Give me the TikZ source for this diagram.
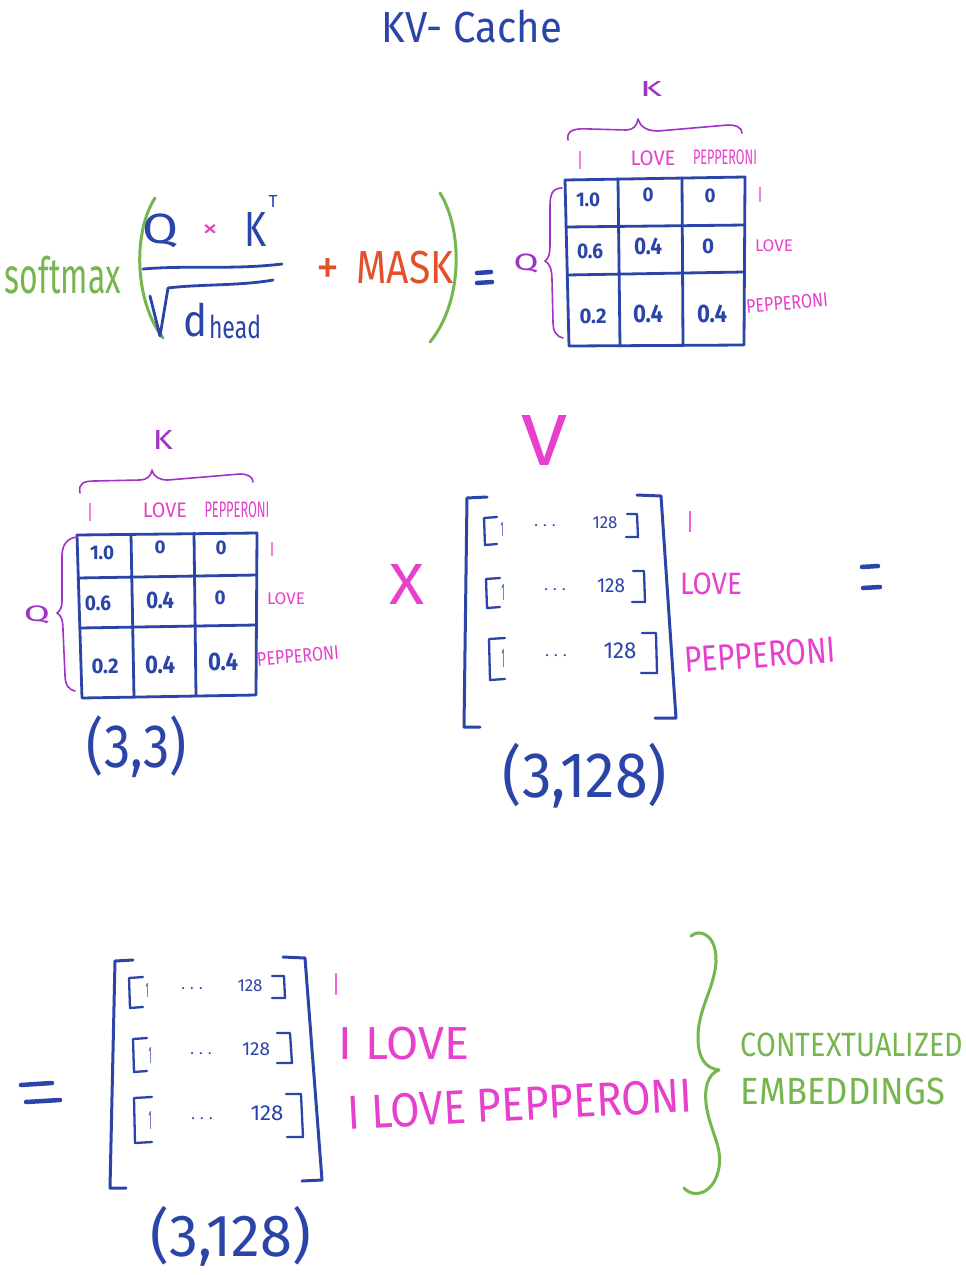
\documentclass[tikz,border=0pt]{standalone}
\usepackage{fontspec}
\setmainfont{Fira Sans}
\usepackage{graphicx}
\definecolor{inkblue}{RGB}{42,68,168}
\definecolor{inkpink}{RGB}{230,64,205}
\definecolor{inkpurple}{RGB}{160,50,200}
\definecolor{inkgreen}{RGB}{118,182,78}
\definecolor{inkred}{RGB}{226,80,44}
\newcommand{\fb}[3]{\resizebox*{#1pt}{#2pt}{#3}}
\begin{document}
\begin{tikzpicture}[x=1pt,y=-1pt,
  lbl/.style={inner sep=0pt,outer sep=0pt},
  blue/.style={lbl,text=inkblue},
  pink/.style={lbl,text=inkpink},
  purp/.style={lbl,text=inkpurple},
  gridline/.style={draw=inkblue,line width=2.8pt,line cap=round,line join=round},
  bigbr/.style={draw=inkblue,line width=3pt,line cap=round,line join=round},
  smallbr/.style={draw=inkblue,line width=2.3pt,line cap=round,line join=round},
  pbrace/.style={draw=inkpurple,line width=1.6pt,line cap=round,line join=round},
  gline/.style={draw=inkgreen,line width=3pt,line cap=round,line join=round},
  eqbar/.style={draw=inkblue,line width=4.5pt,line cap=round},
  dots/.style={lbl,text=inkblue,font=\fontsize{15}{15}\selectfont}
]
\useasboundingbox (0,0) rectangle (966,1275);
\fill[white] (0,0) rectangle (966,1275);

% ---------- title ----------
\node[blue] (title) at (472,27) {\fb{180}{33}{KV- Cache}};

% ---------- formula ----------
\node[lbl,text=inkgreen] (softmax) at (63,275) {\fb{116}{38}{softmax}};
\draw[gline] (155,198) .. controls (133,232) and (134,300) .. (163,338);
\draw[gline] (440,193) .. controls (463,230) and (463,302) .. (430,342);
\node[blue] (fq) at (161,231) {\fb{36}{34}{Q}};
\node[pink] (ftimes) at (210,231) {\fb{16}{13}{×}};
\node[blue] (fk) at (255,229) {\fb{22}{34}{K}};
\node[blue] (ft) at (273,201) {\fb{9}{12}{T}};
\draw[gridline] (143,269) .. controls (190,265) and (232,270) .. (282,264);
\draw[gridline] (150,296) -- (160,336) -- (168,288) .. controls (200,284) and (240,286) .. (273,280);
\node[blue] (fd) at (196,320) {\fb{24}{34}{d}};
\node[blue] (fhead) at (235,327) {\fb{52}{24}{head}};
\node[lbl,text=inkred] (fplus) at (328,271) {\fb{23}{26}{+}};
\node[lbl,text=inkred] (fmask) at (405,268) {\fb{97}{33}{MASK}};
\draw[eqbar] (477,273) -- (491,272);
\draw[eqbar] (477,283) -- (492,282);
\node[purp] (q1) at (526,263) {\fb{25}{19}{Q}};

% ---------- matrix 1 ----------
\draw[gridline] (565,180) -- (745,177) -- (744,345) -- (569,346) -- cycle;
\draw[gridline] (618,179) -- (620,346);
\draw[gridline] (682,178) -- (683,345);
\draw[gridline] (566,227) -- (745,225);
\draw[gridline] (567,275) -- (744,272);
\node[blue] (m1a) at (588,200) {\fb{24}{14}{\bfseries 1.0}};
\node[blue] (m1b) at (648,195) {\fb{11}{14}{\bfseries 0}};
\node[blue] (m1c) at (710,196) {\fb{11}{14}{\bfseries 0}};
\node[blue] (m1d) at (590,251) {\fb{26}{15}{\bfseries 0.6}};
\node[blue] (m1e) at (648,246) {\fb{28}{17}{\bfseries 0.4}};
\node[blue] (m1f) at (708,246) {\fb{12}{15}{\bfseries 0}};
\node[blue] (m1g) at (593,316) {\fb{27}{15}{\bfseries 0.2}};
\node[blue] (m1h) at (648,314) {\fb{30}{18}{\bfseries 0.4}};
\node[blue] (m1i) at (712,314) {\fb{30}{18}{\bfseries 0.4}};
\node[pink] (c1a) at (580,160) {\fb{4}{18}{I}};
\node[pink] (c1b) at (653,158) {\fb{45}{15}{LOVE}};
\node[pink] (c1c) at (725,157) {\fb{64}{15}{PEPPERONI}};
\node[pink] (r1a) at (760,195) {\fb{4}{15}{I}};
\node[pink] (r1b) at (774,246) {\fb{38}{12}{LOVE}};
\node[pink,rotate=5] (r1c) at (787,303) {\fb{82}{14}{PEPPERONI}};
\draw[pbrace] (568,140) .. controls (566,130) and (575,128) .. (590,129) -- (626,130) .. controls (633,130) and (637,126) .. (638,119) .. controls (640,126) and (646,131) .. (658,131) -- (728,125) .. controls (737,125) and (742,128) .. (742,133);
\node[purp] (k1) at (651,89) {\fb{22}{15}{K}};
\draw[pbrace] (562,188) .. controls (552,188) and (550,195) .. (550,206) -- (550,245) .. controls (550,255) and (548,259) .. (545,261) .. controls (549,263) and (552,268) .. (552,280) -- (553,322) .. controls (553,332) and (557,337) .. (563,338);

% ---------- matrix 2 ----------
\draw[gridline] (77,535) -- (257,533) -- (256,695) -- (82,698) -- cycle;
\draw[gridline] (131,534) -- (134,697);
\draw[gridline] (194,533) -- (196,696);
\draw[gridline] (78,578) -- (257,575);
\draw[gridline] (80,628) -- (256,625);
\node[blue] (m2a) at (102,553) {\fb{24}{14}{\bfseries 1.0}};
\node[blue] (m2b) at (160,547) {\fb{11}{13}{\bfseries 0}};
\node[blue] (m2c) at (221,548) {\fb{11}{14}{\bfseries 0}};
\node[blue] (m2d) at (98,603) {\fb{26}{15}{\bfseries 0.6}};
\node[blue] (m2e) at (160,600) {\fb{28}{17}{\bfseries 0.4}};
\node[blue] (m2f) at (220,598) {\fb{11}{14}{\bfseries 0}};
\node[blue] (m2g) at (105,666) {\fb{27}{15}{\bfseries 0.2}};
\node[blue] (m2h) at (160,665) {\fb{30}{18}{\bfseries 0.4}};
\node[blue] (m2i) at (223,662) {\fb{30}{18}{\bfseries 0.4}};
\node[pink] (c2a) at (90,512) {\fb{4}{18}{I}};
\node[pink] (c2b) at (165,510) {\fb{44}{15}{LOVE}};
\node[pink] (c2c) at (237,510) {\fb{65}{16}{PEPPERONI}};
\node[pink] (r2a) at (272,549) {\fb{4}{14}{I}};
\node[pink] (r2b) at (286,599) {\fb{38}{12}{LOVE}};
\node[pink,rotate=5] (r2c) at (298,656) {\fb{82}{14}{PEPPERONI}};
\draw[pbrace] (80,493) .. controls (78,483) and (84,481) .. (95,481) -- (140,480) .. controls (147,480) and (151,476) .. (152,470) .. controls (154,477) and (159,480) .. (168,480) -- (240,474) .. controls (248,474) and (253,477) .. (253,482);
\node[purp] (k2) at (163,440) {\fb{20}{19}{K}};
\draw[pbrace] (77,537) .. controls (67,538) and (62,545) .. (62,556) -- (62,600) .. controls (62,608) and (60,611) .. (57,613) .. controls (61,615) and (63,620) .. (63,630) -- (65,675) .. controls (65,685) and (69,690) .. (75,691);
\node[purp] (q2) at (37,615) {\fb{26}{18}{Q}};
\node[blue] (s33) at (137,747) {\fb{100}{62}{(3,3)}};

% ---------- times ----------
\node[pink] (times) at (407,584) {\fb{35}{40}{X}};

% ---------- V matrix ----------
\node[pink] (vlab) at (545,440) {\fb{46}{50}{V}};
\draw[bigbr] (487,497) -- (467,498) -- (464,727) -- (480,727);
\draw[bigbr] (637,495) -- (661,496) -- (676,718) -- (655,718);
\draw[smallbr] (497,517) -- (484,518) -- (485,545) -- (497,544);
\draw[smallbr] (627,514) -- (637,514) -- (638,537) -- (626,537);
\node[blue] (v1a) at (502,529) {\fb{3}{14}{1}};
\node[dots] (v1b) at (545,526) {. . .};
\node[blue] (v1c) at (605,523) {\fb{25}{12}{128}};
\draw[smallbr] (500,578) -- (486,579) -- (487,608) -- (500,607);
\draw[smallbr] (633,571) -- (644,571) -- (645,602) -- (632,602);
\node[blue] (v2a) at (503,592) {\fb{3}{16}{1}};
\node[dots] (v2b) at (555,590) {. . .};
\node[blue] (v2c) at (611,586) {\fb{28}{14}{128}};
\draw[smallbr] (505,638) -- (489,639) -- (490,680) -- (505,679);
\draw[smallbr] (642,633) -- (656,633) -- (657,673) -- (641,673);
\node[blue] (v3a) at (503,658) {\fb{3}{18}{1}};
\node[dots] (v3b) at (556,656) {. . .};
\node[blue] (v3c) at (620,651) {\fb{33}{16}{128}};
\node[pink] (vr1) at (690,522) {\fb{5}{21}{I}};
\node[pink] (vr2) at (711,584) {\fb{62}{22}{LOVE}};
\node[pink,rotate=4] (vr3) at (760,655) {\fb{152}{26}{PEPPERONI}};
\node[blue] (s3128a) at (585,776) {\fb{164}{65}{(3,128)}};
\draw[eqbar] (862,567) -- (878,566);
\draw[eqbar] (863,588) -- (880,587);

% ---------- result ----------
\draw[eqbar] (21,1085) -- (52,1083);
\draw[eqbar] (26,1102) -- (60,1100);
\draw[bigbr] (133,960) -- (115,961) -- (110,1188) -- (126,1188);
\draw[bigbr] (283,957) -- (305,958) -- (322,1180) -- (302,1181);
\draw[smallbr] (143,977) -- (129,978) -- (130,1008) -- (143,1007);
\draw[smallbr] (272,976) -- (284,976) -- (285,998) -- (272,998);
\node[blue] (e1a) at (147,990) {\fb{3}{14}{1}};
\node[dots] (e1b) at (192,989) {. . .};
\node[blue] (e1c) at (250,986) {\fb{25}{12}{128}};
\draw[smallbr] (147,1038) -- (133,1039) -- (134,1072) -- (147,1071);
\draw[smallbr] (277,1033) -- (290,1033) -- (292,1063) -- (277,1063);
\node[blue] (e2a) at (150,1055) {\fb{3}{16}{1}};
\node[dots] (e2b) at (201,1054) {. . .};
\node[blue] (e2c) at (256,1049) {\fb{28}{13}{128}};
\draw[smallbr] (152,1097) -- (134,1098) -- (135,1143) -- (152,1142);
\draw[smallbr] (286,1094) -- (301,1094) -- (303,1137) -- (287,1137);
\node[blue] (e3a) at (150,1120) {\fb{3}{18}{1}};
\node[dots] (e3b) at (202,1119) {. . .};
\node[blue] (e3c) at (267,1113) {\fb{33}{15}{128}};
\node[blue] (s3128b) at (231,1236) {\fb{160}{60}{(3,128)}};
\node[pink] (er1) at (336,984) {\fb{5}{22}{I}};
\node[pink] (er2) at (404,1044) {\fb{130}{33}{I LOVE}};
\node[pink,rotate=3] (er3) at (520,1104) {\fb{345}{34}{I LOVE PEPPERONI}};
\draw[gline] (691,936) .. controls (700,928) and (717,935) .. (716,962) .. controls (714,990) and (697,1010) .. (698,1040) .. controls (699,1060) and (706,1068) .. (719,1070) .. controls (708,1074) and (703,1088) .. (707,1110) .. controls (712,1135) and (724,1150) .. (718,1172) .. controls (713,1192) and (695,1200) .. (684,1188);
\node[lbl,text=inkgreen] (ctx1) at (852,1045) {\fb{222}{24}{CONTEXTUALIZED}};
\node[lbl,text=inkgreen] (ctx2) at (843,1091) {\fb{204}{27}{EMBEDDINGS}};
\end{tikzpicture}
\end{document}
